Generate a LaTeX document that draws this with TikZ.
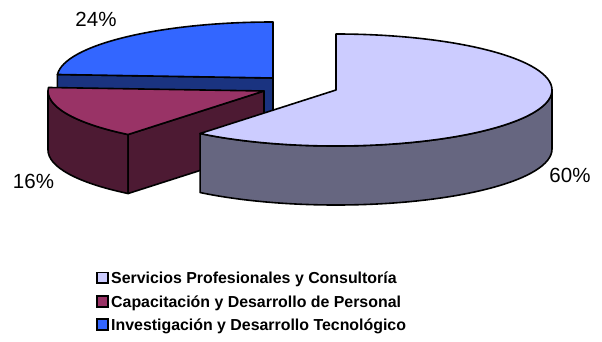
\documentclass[tikz,border=0pt]{standalone}
\usepackage{fontspec}
\setmainfont{Liberation Sans}
\usetikzlibrary{calc}
\definecolor{servtop}{HTML}{CCCCFF}
\definecolor{servside}{HTML}{666680}
\definecolor{captop}{HTML}{993366}
\definecolor{capside}{HTML}{4D1A33}
\definecolor{invtop}{HTML}{3366FF}
\definecolor{invside}{HTML}{1A3380}
\tikzset{slice/.style={draw=black, line width=1.6pt, line join=round},
    rim/.style={x radius=216pt, y radius=56pt},
    key/.style={draw=black, line width=1.6pt, minimum size=10.5pt, inner sep=0pt},
    keytext/.style={anchor=base west, inner sep=0pt, font=\bfseries\fontsize{15.9}{19}\selectfont},
    pct/.style={anchor=base, inner sep=0pt, font=\fontsize{20.5}{24}\selectfont}
}

\begin{document}
\begin{tikzpicture}[x=1pt,y=1pt]
	\useasboundingbox (0,0) rectangle (602,341);
	\coordinate (Ci) at (273,263);
	\coordinate (Cc) at (264,250);
	\coordinate (Cs) at (336,251);
	% investigacion (back)
	\draw[slice,fill=invside] (Ci) -- ($(Ci)+(176.4:216pt and 56pt)$) -- ++(0,-59) -- ($(Ci)+(0,-59)$) -- cycle;
	\draw[slice,fill=invtop] (Ci) -- ($(Ci)+(176.4:216pt and 56pt)$) arc[rim,start angle=176.4,end angle=90] -- cycle;
	% capacitacion
	\draw[slice,fill=capside] ($(Cc)+(180:216pt and 56pt)$) arc[rim,start angle=180,end angle=231] -- ++(0,-59) arc[rim,start angle=231,end angle=180] -- cycle;
	\draw[slice,fill=capside] (Cc) -- ($(Cc)+(231:216pt and 56pt)$) -- ++(0,-59) -- ($(Cc)+(0,-59)$) -- cycle;
	\draw[slice,fill=captop] (Cc) -- ($(Cc)+(176.4:216pt and 56pt)$) arc[rim,start angle=176.4,end angle=231] -- cycle;
	% servicios (front)
	\draw[slice,fill=servside] ($(Cs)+(231:216pt and 56pt)$) arc[rim,start angle=231,end angle=360] -- ++(0,-59) arc[rim,start angle=360,end angle=231] -- cycle;
	\draw[slice,fill=servtop] (Cs) -- ($(Cs)+(231:216pt and 56pt)$) arc[rim,start angle=231,end angle=450] -- cycle;
	% percentages
	\node[pct] (p24) at (96,315) {24\%};
	\node[pct] (p16) at (33.5,153) {16\%};
	\node[pct] (p60) at (570,159) {60\%};
	% legend
	\node[key,fill=servtop] (k1) at (102.5,63.2) {};
	\node[key,fill=captop] (k2) at (102.5,39.5) {};
	\node[key,fill=invtop] (k3) at (102.5,16.5) {};
	\node[keytext] (t1) at (111,57.3) {Servicios Profesionales y Consultoría};
	\node[keytext] (t2) at (111,33.3) {Capacitación y Desarrollo de Personal};
	\node[keytext] (t3) at (111,10.3) {Investigación y Desarrollo Tecnológico};
\end{tikzpicture}
\end{document}
